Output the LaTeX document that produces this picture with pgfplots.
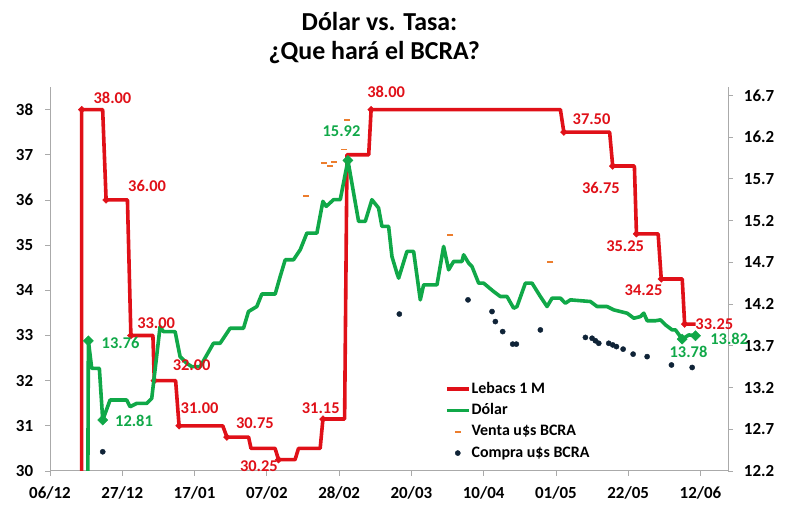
\documentclass[border=0pt]{standalone}
\usepackage{fontspec}
\setmainfont{Carlito}
\usepackage{pgfplots}
\pgfplotsset{compat=1.18}
\definecolor{cred}{RGB}{224,16,24}
\definecolor{cgreen}{RGB}{16,168,72}
\definecolor{corange}{RGB}{236,125,45}
\definecolor{cdark}{RGB}{15,35,55}
\definecolor{cgrey}{RGB}{170,170,170}
\begin{document}
\begin{tikzpicture}[x=1bp,y=1bp]
\useasboundingbox (0,0) rectangle (800,515);
\node[anchor=base, inner sep=0pt, font=\bfseries\fontsize{26}{30}\selectfont] at (379.5,484.3) {Dólar vs. Tasa:};
\node[anchor=base, inner sep=0pt, font=\bfseries\fontsize{26}{30}\selectfont] at (374.2,455) {¿Que hará el BCRA?};
\pgfplotsset{
  common/.style={
    at={(50bp,44bp)}, anchor=south west,
    width=678bp, height=384bp, scale only axis,
    xmin=0, xmax=197,
    clip mode=individual,
    tick align=outside,
    major tick length=5bp,
    every tick/.style={cgrey, line width=0.8bp},
    axis line style={cgrey, line width=1bp},
    tick label style={font=\bfseries\fontsize{17}{17}\selectfont, text=black, inner sep=0pt},
    /pgf/number format/assume math mode=true,
  }}
\begin{axis}[common,
  axis x line*=bottom, axis y line*=left,
  ymin=30, ymax=38.5, ytick={30,31,32,33,34,35,36,37,38},
  xtick={0,21,42,63,84,105,126,147,168,189},
  xticklabels={06/12,27/12,17/01,07/02,28/02,20/03,10/04,01/05,22/05,12/06},
  yticklabel style={xshift=-11.7bp},
  xticklabel style={yshift=-10.7bp},
]
\addplot[cred, line width=3.6bp, line join=round] coordinates {
(9.2,20) (9.2,38) (15.3,38) (16.3,36) (22.5,36) (23.5,33) (29.9,33) (30.3,32)
(36.5,32) (37.5,31) (50.2,31) (51.4,30.75) (57.7,30.75) (58.4,30.5) (65.4,30.5)
(66.4,30.25) (71.2,30.25) (72.2,30.5) (78.5,30.5) (79.3,31.15) (85.6,31.15)
(86.3,37) (92.6,37) (93.3,38) (148.3,38) (149.3,37.5) (162.6,37.5) (163.5,36.75)
(169.8,36.75) (170.4,35.25) (176.7,35.25) (177.6,34.25) (183.7,34.25) (184.4,33.25)
(187.6,33.25)};
\addplot[only marks, mark=square*, mark size=2.4bp, mark options={rotate=45, fill=cred, draw=cred}] coordinates {
(9.2,38) (16.3,36) (23.5,33) (30.3,32) (37.5,31) (51.4,30.75) (66.4,30.25)
(79.3,31.15) (93.3,38) (149.3,37.5) (163.5,36.75) (170.4,35.25) (177.6,34.25) (184.4,33.25)};
\coordinate (L1) at (axis cs:9.2,38);
\coordinate (L2) at (axis cs:16.3,36);
\coordinate (L3) at (axis cs:23.5,33);
\coordinate (L4) at (axis cs:30.3,32);
\coordinate (L5) at (axis cs:37.5,31);
\coordinate (L6) at (axis cs:51.4,30.75);
\coordinate (L7) at (axis cs:66.4,30.25);
\coordinate (L8) at (axis cs:79.3,31.15);
\coordinate (L9) at (axis cs:93.3,38);
\coordinate (L10) at (axis cs:149.3,37.5);
\coordinate (L11) at (axis cs:163.5,36.75);
\coordinate (L12) at (axis cs:170.4,35.25);
\coordinate (L13) at (axis cs:177.6,34.25);
\coordinate (L14) at (axis cs:184.4,33.25);
\end{axis}
\begin{axis}[common,
  axis x line=none, axis y line*=right, xtick=\empty,
  ymin=12.2, ymax=16.8,
  ytick={12.2,12.7,13.2,13.7,14.2,14.7,15.2,15.7,16.2,16.7},
  yticklabel style={xshift=10.7bp, /pgf/number format/.cd, fixed, fixed zerofill, precision=1},
  legend cell align=left,
  legend style={at={(0.5826,0.2326)}, anchor=north west, draw=none, fill=none,
    inner sep=0pt, outer sep=0pt, row sep=6.3bp, column sep=1bp,
    font=\bfseries\fontsize{16}{18}\selectfont,
    nodes={inner sep=0pt, text height=11.5bp, text depth=3.5bp}},
  legend image code/.code={\draw[mark repeat=2,mark phase=2,#1] plot coordinates {(0bp,0bp) (11bp,0bp) (22bp,0bp)};},
]
\addlegendimage{cred, line width=3.6bp}
\addlegendentry{Lebacs 1 M}
\addplot[cgreen, line width=3.6bp, line join=round] coordinates {
(10.9,11) (11.15,13.76) (12.12,13.43) (14.34,13.43) (15.32,12.81) (17.45,13.05)
(22.29,13.05) (23.26,12.97) (25.2,13.01) (28.11,13.01) (29.56,13.07) (31.99,13.93)
(32.95,13.87) (36.35,13.87) (37.8,13.57) (39.74,13.49) (41.19,13.45) (43.62,13.45)
(47.49,13.73) (49.43,13.73) (52.34,13.91) (56.22,13.91) (57.67,14.11) (60.09,14.17)
(61.55,14.32) (65.43,14.32) (66.88,14.53) (68.34,14.73) (70.76,14.73) (72.7,14.85)
(74.64,15.05) (77.55,15.05) (79.29,15.43) (80.26,15.37) (82.39,15.45) (84.33,15.45)
(86.56,15.92) (89.66,15.19) (91.6,15.19) (93.54,15.45) (95.47,15.35) (96.44,15.13)
(98.38,15.13) (99.35,14.77) (100.8,14.57) (101.3,14.51) (103.71,14.83) (105.65,14.83)
(107.59,14.25) (108.56,14.43) (112.44,14.43) (114.37,14.89) (115.83,14.61) (117.28,14.71)
(119.7,14.71) (120.18,14.79) (121.64,14.69) (122.61,14.65) (124.55,14.45) (126.0,14.45)
(128.9,14.35) (130.85,14.29) (132.79,14.29) (134.72,14.15) (135.69,14.17) (138.12,14.45)
(140.06,14.45) (142.48,14.29) (144.42,14.17) (145.87,14.27) (148.3,14.27) (149.75,14.21)
(151.21,14.25) (154.11,14.24) (157.02,14.23) (158.96,14.17) (161.86,14.17) (163.8,14.13)
(165.75,14.11) (167.69,14.09) (169.63,14.03) (171.56,14.05) (172.53,14.09) (173.5,14.0)
(175.92,14.0) (177.38,14.01) (178.83,13.95) (180.77,13.89) (181.74,13.89) (183.68,13.78)
(185.62,13.83) (187.56,13.82)};
\addlegendentry{Dólar}
\addplot[only marks, mark=-, mark size=3bp, mark options={corange, line width=1.8bp}] coordinates {
(74.44,15.49) (79.48,15.89) (81.42,15.85) (82.39,15.90) (85.3,16.05) (86.26,16.40)
(116.3,15.03) (145.4,14.70)};
\addlegendentry{Venta u\$s BCRA}
\addplot[only marks, mark=*, mark size=2.6bp, mark options={cdark, fill=cdark}] coordinates {
(15.32,12.43) (101.5,14.08) (121.45,14.25) (128.43,14.11) (129.4,13.99) (131.53,13.87)
(134.44,13.72) (135.5,13.72) (142.48,13.89) (155.57,13.80) (157.51,13.79) (158.48,13.76)
(159.45,13.73) (162.35,13.73) (163.52,13.71) (164.58,13.69) (166.52,13.66) (169.43,13.60)
(173.5,13.57) (180.57,13.47) (186.58,13.44)};
\addlegendentry{Compra u\$s BCRA}
\addplot[forget plot, only marks, mark=square*, mark size=3.6bp, mark options={rotate=45, fill=cgreen, draw=cgreen}] coordinates {
(11.15,13.76) (15.32,12.81) (86.56,15.92) (183.68,13.78) (187.56,13.82)};
\coordinate (G1) at (axis cs:11.15,13.76);
\coordinate (G2) at (axis cs:15.32,12.81);
\coordinate (G3) at (axis cs:86.56,15.92);
\coordinate (G4) at (axis cs:183.68,13.78);
\coordinate (G5) at (axis cs:187.56,13.82);
\end{axis}
\begin{scope}[every node/.style={inner sep=0pt, font=\bfseries\fontsize{16.5}{18}\selectfont}]
\node[text=cred] at ([shift={(30.8,11.5)}]L1) {38.00};
\node[text=cred] at ([shift={(41,14)}]L2) {36.00};
\node[text=cred] at ([shift={(25.3,12.7)}]L3) {33.00};
\node[text=cred] at ([shift={(37.4,15.5)}]L4) {32.00};
\node[text=cred] at ([shift={(20.5,18)}]L5) {31.00};
\node[text=cred] at ([shift={(28,14.3)}]L6) {30.75};
\node[text=cred] at ([shift={(-19.6,-6.6)}]L7) {30.25};
\node[text=cred] at ([shift={(-2.2,11.1)}]L8) {31.15};
\node[text=cred] at ([shift={(15,18)}]L9) {38.00};
\node[text=cred] at ([shift={(27.7,12.7)}]L10) {37.50};
\node[text=cred] at ([shift={(-11.8,-22)}]L11) {36.75};
\node[text=cred] at ([shift={(-11.3,-12.7)}]L12) {35.25};
\node[text=cred] at ([shift={(-17.7,-11)}]L13) {34.25};
\node[text=cred] at ([shift={(29.7,0)}]L14) {33.25};
\node[text=cgreen] at ([shift={(32.2,-1.7)}]G1) {13.76};
\node[text=cgreen] at ([shift={(31.3,-1)}]G2) {12.81};
\node[text=cgreen] at ([shift={(-6.4,29)}]G3) {15.92};
\node[text=cgreen] at ([shift={(6.3,-12.5)}]G4) {13.78};
\node[text=cgreen] at ([shift={(33.7,-2.7)}]G5) {13.82};
\end{scope}
\end{tikzpicture}
\end{document}
